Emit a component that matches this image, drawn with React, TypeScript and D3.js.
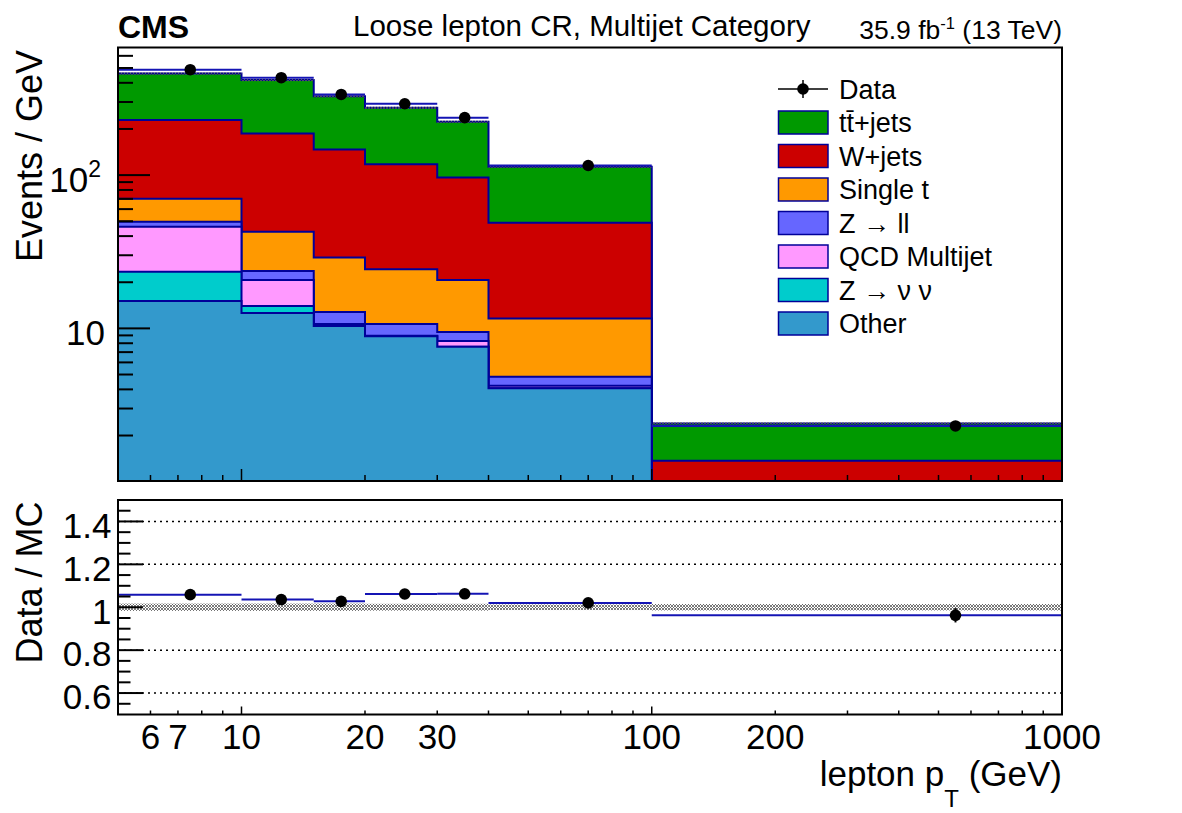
import React, { useEffect, useRef } from 'react';
import * as d3 from 'd3';

// lepton pT bin edges (GeV)
const binEdges = [5, 10, 15, 20, 30, 40, 100, 1000];

// background processes, events / GeV per bin
const ttbarJets = [231.4, 230, 180, 157.5, 126.4, 64.3, 1.03];
const wJets = [158.6, 144.3, 118, 93.2, 75.9, 37.3, 0.75];
const singleTop = [20.4, 19.0, 16.2, 13.6, 11.24, 6.77, 0.25];
const zToLL = [3.6, 3.0, 2.1, 1.75, 1.2, 0.6, 0.02];
const qcdMultijet = [22.6, 6.7, 0.25, 0.05, 0.67, 0.16, 0];
const zToNuNu = [8.3, 1.4, 0.1, 0, 0, 0, 0];
const otherBkg = [15.1, 12.6, 10.35, 8.9, 7.59, 4.07, 0.35];

// observed data, events / GeV
const dataValues = [487, 432, 336, 292, 237, 115.5, 2.31];
const dataErrors = [4, 3.5, 2.8, 2.2, 2.2, 0.5, 0.08];
// relative MC stat. uncertainty
const mcRelUnc = [0.017, 0.017, 0.017, 0.016, 0.016, 0.013, 0.015];

const xMinorTicks = [6, 7, 8, 9, 20, 30, 40, 50, 60, 70, 80, 90, 200, 300, 400, 500, 600, 700, 800, 900];
const xMajorTicks = [10, 100];
const xTickLabels = [6, 7, 10, 20, 30, 100, 200, 1000];
const yMinorTicks = [2, 3, 4, 5, 6, 7, 8, 9, 20, 30, 40, 50, 60, 70, 80, 90, 200, 300, 400, 500, 600];
const yMajorTicks = [10, 100];
const ratioGrid = [0.6, 0.8, 1.2, 1.4];
const ratioLabels = ['0.6', '0.8', '1', '1.2', '1.4'];

// stacking order, bottom to top
const processes = [
  { key: 'other', label: 'Other', color: '#3399cc', values: otherBkg },
  { key: 'znunu', label: 'Z \u2192 \u03bd \u03bd', color: '#00cccc', values: zToNuNu },
  { key: 'qcd', label: 'QCD Multijet', color: '#ff99ff', values: qcdMultijet },
  { key: 'zll', label: 'Z \u2192 ll', color: '#6666ff', values: zToLL },
  { key: 'singlet', label: 'Single t', color: '#ff9900', values: singleTop },
  { key: 'wjets', label: 'W+jets', color: '#cc0000', values: wJets },
  { key: 'ttbar', label: 'tt\u0304+jets', color: '#009900', values: ttbarJets },
];

const FONT = '"Liberation Sans", Arial, Helvetica, sans-serif';
const OUTLINE = '#000099';
const DATA_LINE = '#1414b4';

export default function App() {
  const svgRef = useRef<SVGSVGElement>(null);

  useEffect(() => {
    if (!svgRef.current) return;
    const svg = d3.select(svgRef.current);
    svg.selectAll('*').remove();
    svg.attr('font-family', FONT);

    const left = 118, right = 1062;
    const topY0 = 47.5, topY1 = 481;
    const botY0 = 500, botY1 = 714.5;

    const x = d3.scaleLog().domain([5, 1000]).range([left, right]);
    const y = d3.scaleLog().domain([1.01, 680]).range([topY1, topY0]).clamp(true);
    const r = d3.scaleLinear().domain([0.5, 1.5]).range([botY1, botY0]);

    const defs = svg.append('defs');
    const pat = defs.append('pattern')
      .attr('id', 'mc-unc')
      .attr('width', 3)
      .attr('height', 3)
      .attr('patternUnits', 'userSpaceOnUse');
    pat.append('path')
      .attr('d', 'M0,0L3,3M3,0L0,3')
      .attr('stroke', '#5a5a5a')
      .attr('stroke-width', 0.8);
    defs.append('clipPath').attr('id', 'top-clip')
      .append('rect')
      .attr('x', left).attr('y', topY0)
      .attr('width', right - left).attr('height', topY1 - topY0);

    const bins = d3.range(binEdges.length - 1).map(i => ({
      lo: binEdges[i],
      hi: binEdges[i + 1],
      mid: (binEdges[i] + binEdges[i + 1]) / 2,
    }));

    const rows = bins.map((_, i) => {
      const row: Record<string, number> = {};
      processes.forEach(p => { row[p.key] = p.values[i]; });
      return row;
    });
    const stacked = d3.stack<Record<string, number>>().keys(processes.map(p => p.key))(rows);
    const totals = rows.map(row => d3.sum(processes, p => row[p.key]));

    const stepPoints = (vals: number[]) =>
      vals.flatMap((v, i) => [[binEdges[i], v], [binEdges[i + 1], v]] as [number, number][]);

    const area = d3.area<[number, number]>()
      .x(d => x(d[0]))
      .y0(topY1)
      .y1(d => y(Math.max(d[1], 1e-6)));

    // stacked histograms, drawn from the top layer down
    const stackG = svg.append('g').attr('clip-path', 'url(#top-clip)');
    [...stacked].reverse().forEach(s => {
      const proc = processes.find(p => p.key === s.key)!;
      stackG.append('path')
        .datum(stepPoints(s.map(d => d[1])))
        .attr('d', area)
        .attr('fill', proc.color)
        .attr('stroke', OUTLINE)
        .attr('stroke-width', 2)
        .attr('stroke-linejoin', 'miter');
    });

    // MC uncertainty band
    stackG.selectAll('rect.unc')
      .data(bins)
      .join('rect')
      .attr('x', d => x(d.lo))
      .attr('width', d => x(d.hi) - x(d.lo))
      .attr('y', (_, i) => y(totals[i] * (1 + mcRelUnc[i])))
      .attr('height', (_, i) => y(totals[i] * (1 - mcRelUnc[i])) - y(totals[i] * (1 + mcRelUnc[i])))
      .attr('fill', 'url(#mc-unc)');

    // data as blue horizontal segments
    stackG.selectAll('line.data-h')
      .data(bins)
      .join('line')
      .attr('x1', d => x(d.lo))
      .attr('x2', d => x(d.hi))
      .attr('y1', (_, i) => y(dataValues[i]))
      .attr('y2', (_, i) => y(dataValues[i]))
      .attr('stroke', DATA_LINE)
      .attr('stroke-width', 2);

    stackG.selectAll('line.data-err')
      .data(bins)
      .join('line')
      .attr('x1', d => x(d.mid))
      .attr('x2', d => x(d.mid))
      .attr('y1', (_, i) => y(dataValues[i] + dataErrors[i]))
      .attr('y2', (_, i) => y(dataValues[i] - dataErrors[i]))
      .attr('stroke', '#000')
      .attr('stroke-width', 2);

    stackG.selectAll('circle.data')
      .data(bins)
      .join('circle')
      .attr('cx', d => x(d.mid))
      .attr('cy', (_, i) => y(dataValues[i]))
      .attr('r', 5.8)
      .attr('fill', '#000');

    // top frame and ticks
    svg.append('rect')
      .attr('x', left).attr('y', topY0)
      .attr('width', right - left).attr('height', topY1 - topY0)
      .attr('fill', 'none').attr('stroke', '#000').attr('stroke-width', 2);

    const tickG = svg.append('g').attr('stroke', '#000').attr('stroke-width', 2);
    tickG.selectAll('line.ymaj').data(yMajorTicks).join('line')
      .attr('x1', left).attr('x2', left + 32)
      .attr('y1', d => y(d)).attr('y2', d => y(d));
    tickG.selectAll('line.ymin').data(yMinorTicks).join('line')
      .attr('x1', left).attr('x2', left + 15)
      .attr('y1', d => y(d)).attr('y2', d => y(d));

    const xTicks = (g: d3.Selection<SVGGElement, unknown, null, undefined>, base: number, maj: number, min: number) => {
      g.selectAll('line.xmaj').data(xMajorTicks).join('line')
        .attr('x1', d => x(d)).attr('x2', d => x(d))
        .attr('y1', base).attr('y2', base - maj);
      g.selectAll('line.xmin').data(xMinorTicks).join('line')
        .attr('x1', d => x(d)).attr('x2', d => x(d))
        .attr('y1', base).attr('y2', base - min);
    };
    xTicks(svg.append('g').attr('stroke', '#000').attr('stroke-width', 1.5), topY1, 12, 6);

    // y labels upper panel
    const yLab = svg.append('g').attr('font-size', 35).attr('text-anchor', 'end');
    yLab.append('text').attr('x', 105).attr('y', y(10) + 16.7).text('10');
    const t2 = yLab.append('text').attr('x', 101).attr('y', y(100) + 16.7);
    t2.append('tspan').text('10');
    t2.append('tspan').attr('font-size', 23).attr('dy', -15).text('2');

    svg.append('text')
      .attr('transform', `translate(41.5,50) rotate(-90)`)
      .attr('text-anchor', 'end')
      .attr('font-size', 36)
      .text('Events / GeV');

    // header
    svg.append('text').attr('x', 118).attr('y', 37.5)
      .attr('font-size', 32).attr('font-weight', 'bold').text('CMS');
    svg.append('text').attr('x', 353).attr('y', 35.5)
      .attr('font-size', 29.5).text('Loose lepton CR, Multijet Category');
    const lumi = svg.append('text').attr('x', 1062).attr('y', 38.5)
      .attr('text-anchor', 'end').attr('font-size', 26.5);
    lumi.append('tspan').text('35.9 fb');
    lumi.append('tspan').attr('font-size', 16.5).attr('dy', -9.5).text('-1');
    lumi.append('tspan').attr('dy', 9.5).text(' (13 TeV)');

    // legend
    const legRow = d3.scaleLinear().domain([0, 1]).range([89, 122.5]);
    const leg = svg.append('g');
    const dataLeg = leg.append('g');
    dataLeg.append('line').attr('x1', 778).attr('x2', 828)
      .attr('y1', legRow(0)).attr('y2', legRow(0)).attr('stroke', '#000').attr('stroke-width', 1.5);
    dataLeg.append('line').attr('x1', 803).attr('x2', 803)
      .attr('y1', legRow(0) - 9).attr('y2', legRow(0) + 9).attr('stroke', '#000').attr('stroke-width', 1.5);
    dataLeg.append('circle').attr('cx', 803).attr('cy', legRow(0)).attr('r', 5.8).attr('fill', '#000');
    dataLeg.append('text').attr('x', 839).attr('y', legRow(0) + 9.5).attr('font-size', 27).text('Data');

    const legendProcs = [...processes].reverse();
    legendProcs.forEach((p, i) => {
      const cy = legRow(i + 1);
      leg.append('rect')
        .attr('x', 778.5).attr('y', cy - 11.5)
        .attr('width', 49.5).attr('height', 23)
        .attr('fill', p.color).attr('stroke', OUTLINE).attr('stroke-width', 1.5);
      leg.append('text').attr('x', 839).attr('y', cy + 9.5).attr('font-size', 27).text(p.label);
    });

    // ratio panel
    const ratios = dataValues.map((d, i) => d / totals[i]);
    const ratioErr = dataErrors.map((e, i) => e / totals[i]);

    svg.selectAll('line.grid').data(ratioGrid).join('line')
      .attr('x1', left).attr('x2', right)
      .attr('y1', d => r(d)).attr('y2', d => r(d))
      .attr('stroke', '#000').attr('stroke-width', 1.5)
      .attr('stroke-dasharray', '2,4');

    svg.selectAll('rect.runc').data(bins).join('rect')
      .attr('x', d => x(d.lo))
      .attr('width', d => x(d.hi) - x(d.lo))
      .attr('y', (_, i) => r(1 + mcRelUnc[i]))
      .attr('height', (_, i) => r(1 - mcRelUnc[i]) - r(1 + mcRelUnc[i]))
      .attr('fill', 'url(#mc-unc)');

    svg.selectAll('line.rh').data(bins).join('line')
      .attr('x1', d => x(d.lo)).attr('x2', d => x(d.hi))
      .attr('y1', (_, i) => r(ratios[i])).attr('y2', (_, i) => r(ratios[i]))
      .attr('stroke', DATA_LINE).attr('stroke-width', 2);

    svg.selectAll('line.rerr').data(bins).join('line')
      .attr('x1', d => x(d.mid)).attr('x2', d => x(d.mid))
      .attr('y1', (_, i) => r(ratios[i] + ratioErr[i]))
      .attr('y2', (_, i) => r(ratios[i] - ratioErr[i]))
      .attr('stroke', '#000').attr('stroke-width', 2);

    svg.selectAll('circle.rpt').data(bins).join('circle')
      .attr('cx', d => x(d.mid))
      .attr('cy', (_, i) => r(ratios[i]))
      .attr('r', 5.8)
      .attr('fill', '#000');

    svg.append('rect')
      .attr('x', left).attr('y', botY0)
      .attr('width', right - left).attr('height', botY1 - botY0)
      .attr('fill', 'none').attr('stroke', '#000').attr('stroke-width', 2);

    const rTickVals = d3.range(11, 30).map(k => k * 0.05);
    const isMajor = (v: number) => Math.abs((v - 0.6) / 0.2 - Math.round((v - 0.6) / 0.2)) < 1e-6;
    svg.append('g').attr('stroke', '#000').attr('stroke-width', 2)
      .selectAll('line').data(rTickVals).join('line')
      .attr('x1', left).attr('x2', d => left + (isMajor(d) ? 25 : 12.5))
      .attr('y1', d => r(d)).attr('y2', d => r(d));

    xTicks(svg.append('g').attr('stroke', '#000').attr('stroke-width', 1.5), botY1, 8, 4);

    svg.append('g').attr('font-size', 35).attr('text-anchor', 'end')
      .selectAll('text').data(ratioLabels).join('text')
      .attr('x', 111.5)
      .attr('y', d => r(+d) + 16.3)
      .text(d => d);

    svg.append('g').attr('font-size', 35).attr('text-anchor', 'middle')
      .selectAll('text').data(xTickLabels).join('text')
      .attr('x', d => x(d))
      .attr('y', 748.5)
      .text(d => String(d));

    svg.append('text')
      .attr('transform', `translate(41.5,501.5) rotate(-90)`)
      .attr('text-anchor', 'end')
      .attr('font-size', 36)
      .text('Data / MC');

    const xt = svg.append('text').attr('x', 1062).attr('y', 786)
      .attr('text-anchor', 'end').attr('font-size', 35);
    xt.append('tspan').text('lepton p');
    xt.append('tspan').attr('font-size', 24).attr('dy', 21).text('T');
    xt.append('tspan').attr('dy', -21).text(' (GeV)');
  }, []);

  return (
    <svg
      ref={svgRef}
      width={1182}
      height={813}
      style={{ position: 'absolute', left: 0, top: 0, background: '#fff' }}
    />
  );
}
